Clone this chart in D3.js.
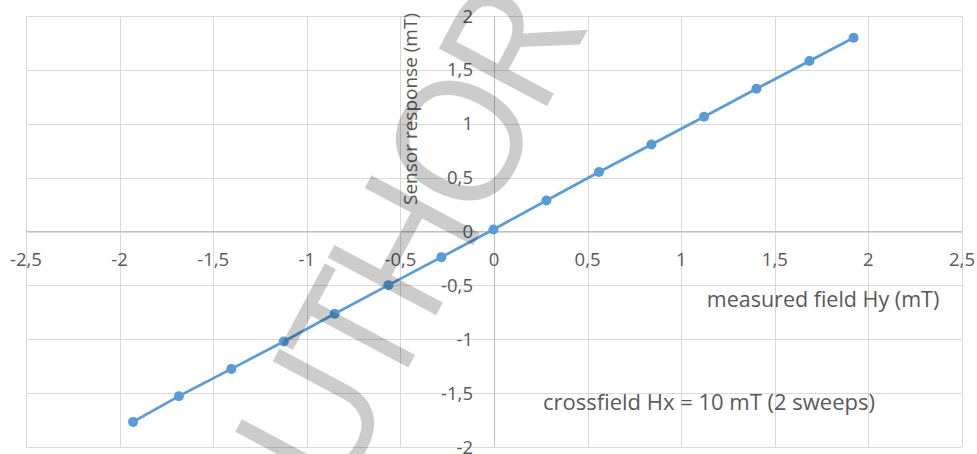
<!DOCTYPE html>
<html>
<head>
<meta charset="utf-8">
<script src="https://cdn.jsdelivr.net/npm/d3@7"></script>
<style>
  html, body { margin: 0; padding: 0; background: #fff; }
  svg { display: block; }
  text { font-family: "Open Sans", sans-serif; }
</style>
</head>
<body>
<svg id="chart" width="977" height="454"></svg>
<script>
// Measured field Hy (mT), two sweeps averaged per step
const fieldHy = [-1.928, -1.683, -1.403, -1.123, -0.851, -0.564, -0.281, -0.003,
                 0.280, 0.561, 0.841, 1.122, 1.402, 1.685, 1.921];
// Sensor response (mT)
const sensorResponse = [-1.767, -1.528, -1.275, -1.021, -0.764, -0.498, -0.238, 0.019,
                        0.288, 0.552, 0.808, 1.065, 1.325, 1.582, 1.798];

const xTicks = [-2.5, -2, -1.5, -1, -0.5, 0, 0.5, 1, 1.5, 2, 2.5];
const yTicks = [-2, -1.5, -1, -0.5, 0, 0.5, 1, 1.5, 2];

const xTitle = "measured field Hy (mT)";
const yTitle = "Sensor response (mT)";
const note = "crossfield Hx = 10 mT (2 sweeps)";
const watermark = "AUTHOR";

const W = 977, H = 454;
const margin = { top: 16, right: 15, bottom: 7, left: 26 };

const svg = d3.select("#chart");

const x = d3.scaleLinear().domain([-2.5, 2.5]).range([margin.left, W - margin.right]);
const y = d3.scaleLinear().domain([-2, 2]).range([H - margin.bottom, margin.top]);

const fmt = v => String(v).replace(".", ",");

// Gridlines
const grid = svg.append("g").attr("class", "grid");
grid.append("g")
  .attr("transform", `translate(0,${y(-2)})`)
  .call(d3.axisBottom(x).tickValues(xTicks).tickSize(-(y(-2) - y(2))).tickFormat(""))
  .call(g => g.select(".domain").remove())
  .call(g => g.selectAll("line").attr("stroke", "#d9d9d9").attr("shape-rendering", "crispEdges"));
grid.append("g")
  .attr("transform", `translate(${x(-2.5)},0)`)
  .call(d3.axisLeft(y).tickValues(yTicks).tickSize(-(x(2.5) - x(-2.5))).tickFormat(""))
  .call(g => g.select(".domain").remove())
  .call(g => g.selectAll("line").attr("stroke", "#d9d9d9").attr("shape-rendering", "crispEdges"));

// Zero axes
svg.append("line")
  .attr("x1", x(-2.5)).attr("x2", x(2.5)).attr("y1", y(0)).attr("y2", y(0))
  .attr("stroke", "#bfbfbf").attr("shape-rendering", "crispEdges");
svg.append("line")
  .attr("x1", x(0)).attr("x2", x(0)).attr("y1", y(-2)).attr("y2", y(2))
  .attr("stroke", "#bfbfbf").attr("shape-rendering", "crispEdges");

// Tick labels
const tickColor = "#595959";
svg.append("g").selectAll("text").data(xTicks).join("text")
  .attr("x", d => x(d)).attr("y", y(0) + 34)
  .attr("text-anchor", "middle")
  .attr("font-size", 18.5).attr("fill", tickColor)
  .text(fmt);
svg.append("g").selectAll("text").data(yTicks).join("text")
  .attr("x", x(0) - 21).attr("y", d => y(d) + 6.5)
  .attr("text-anchor", "end")
  .attr("font-size", 18.5).attr("fill", tickColor)
  .text(fmt);

// Axis titles and note
svg.append("text")
  .attr("x", 823).attr("y", 306.5)
  .attr("text-anchor", "middle").attr("font-size", 21.5).attr("fill", tickColor)
  .text(xTitle);
svg.append("text")
  .attr("transform", "translate(417,109) rotate(-90)")
  .attr("text-anchor", "middle").attr("font-size", 19).attr("fill", tickColor)
  .text(yTitle);
svg.append("text")
  .attr("x", 709).attr("y", 410)
  .attr("text-anchor", "middle").attr("font-size", 22).attr("fill", tickColor)
  .text(note);

// Data series
const blue = "#5b9bd5";
const pts = fieldHy.map((v, i) => [v, sensorResponse[i]]);
svg.append("path")
  .datum(pts)
  .attr("fill", "none").attr("stroke", blue).attr("stroke-width", 2.75)
  .attr("d", d3.line().x(d => x(d[0])).y(d => y(d[1])));
svg.append("g").selectAll("circle").data(pts).join("circle")
  .attr("cx", d => x(d[0])).attr("cy", d => y(d[1])).attr("r", 5)
  .attr("fill", blue);

// Watermark
svg.append("text")
  .attr("transform", "translate(384,285) rotate(-62)")
  .attr("text-anchor", "middle").attr("dy", "0.35em")
  .attr("font-size", 172).attr("letter-spacing", -12)
  .attr("fill", "#000").attr("fill-opacity", 0.2)
  .text(watermark);
</script>
</body>
</html>
